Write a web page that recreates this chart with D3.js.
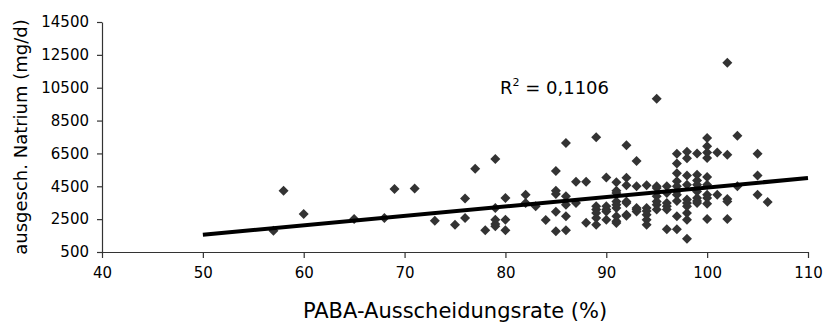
<!DOCTYPE html>
<html>
<head>
<meta charset="utf-8">
<script src="https://cdn.jsdelivr.net/npm/d3@7"></script>
<style>
    body { margin: 0; background: #fff; }
    #chart { width: 826px; height: 322px; }
    text { font-family: "DejaVu Sans", Verdana, sans-serif; fill: #000; }
</style>
</head>
<body>
<div id="chart"></div>
<script>
// PABA excretion rate (%) per subject
let pabaRate = [
    57, 58, 60, 65, 68, 69, 71, 73, 75, 76, 76, 77, 78,
    79, 79, 79, 79, 79, 80, 80, 80, 82, 82, 83, 84,
    85, 85, 85, 85, 85, 86, 86, 86, 86, 86, 87, 87, 88, 88,
    89, 89, 89, 89, 89, 89, 90, 90, 90, 90, 90,
    91, 91, 91, 91, 91, 91, 91, 91, 91,
    92, 92, 92, 92, 92, 92, 92, 93, 93, 93, 93, 93,
    94, 94, 94, 94, 94, 94, 95, 95, 95, 95, 95, 95, 95,
    96, 96, 96, 96, 96, 96,
    97, 97, 97, 97, 97, 97, 97, 97, 97, 97,
    98, 98, 98, 98, 98, 98, 98, 98, 98, 98,
    99, 99, 99, 99, 99, 99, 99, 99,
    100, 100, 100, 100, 100, 100, 100, 100, 100, 100,
    101, 101, 102, 102, 102, 102, 102, 103, 103,
    105, 105, 105, 106
];

// excreted sodium (mg/d), same order
let natrium = [
    1800, 4230, 2810, 2510, 2570, 4330, 4370, 2400, 2160, 3750, 2570, 5570, 1820,
    6160, 3180, 2470, 2200, 2060, 3790, 2470, 1820, 3990, 3480, 3280, 2450,
    5430, 4230, 4030, 2950, 1760, 7130, 3890, 3380, 2670, 1820, 4780, 3480, 4780, 2280,
    7480, 3280, 3080, 2870, 2570, 2160, 5040, 3280, 3080, 2970, 2470,
    4740, 4230, 4090, 3580, 3380, 3180, 2670, 2370, 2260,
    7000, 5020, 4560, 3580, 3480, 2770, 2710, 6040, 4500, 3180, 3080, 2970,
    4560, 3180, 3000, 2770, 2470, 2160, 9830, 4500, 4400, 3890, 3580, 3380, 3080,
    4500, 4090, 3480, 3280, 3080, 1880,
    6480, 5880, 5300, 4800, 4500, 4200, 3990, 3600, 2670, 1880,
    6600, 6200, 5150, 4600, 3690, 3480, 3280, 2870, 2470, 1300,
    6500, 5200, 4850, 4600, 4190, 3790, 3600, 3480,
    7440, 6930, 6560, 6220, 5060, 4600, 3990, 3790, 3440, 2510,
    6560, 3990, 12020, 6420, 3730, 3580, 2510, 7580, 4500,
    6480, 5150, 3990, 3540
];

// linear trend line end points
let trendX = [50, 110];
let trendY = [1550, 5000];
let rSquared = "0,1106";

let xTicks = [40, 50, 60, 70, 80, 90, 100, 110];
let yTicks = [500, 2500, 4500, 6500, 8500, 10500, 12500, 14500];

/**
 * Constructor for the scatter chart
 */
function Scatter(){
    let self = this;
    self.init();
};

Scatter.prototype.init = function(){
    let self = this;
    self.margin = {top: 22, right: 18, bottom: 70, left: 102};
    self.width = 826 - self.margin.left - self.margin.right;
    self.height = 322 - self.margin.top - self.margin.bottom;

    let svg = d3.select("#chart").append("svg")
        .attr("width", 826)
        .attr("height", 322);

    self.g = svg.append("g")
        .attr("transform", "translate(" + self.margin.left + "," + self.margin.top + ")");

    self.x = d3.scaleLinear().domain([40, 110]).range([0, self.width]);
    self.y = d3.scaleLinear().domain([500, 14500]).range([self.height, 0]);

    //Axes
    let xAxis = self.g.append("g")
        .attr("transform", "translate(0," + self.height + ")")
        .call(d3.axisBottom(self.x).tickValues(xTicks).tickFormat(d3.format("d"))
            .tickSize(6).tickSizeOuter(0).tickPadding(9));
    let yAxis = self.g.append("g")
        .call(d3.axisLeft(self.y).tickValues(yTicks).tickFormat(d3.format("d"))
            .tickSize(5).tickSizeOuter(0).tickPadding(8));

    [xAxis, yAxis].forEach(function(ax) {
        ax.select(".domain").attr("stroke", "#333").attr("stroke-width", 1.2);
        ax.selectAll(".tick line").attr("stroke", "#333").attr("stroke-width", 1.2);
        ax.selectAll(".tick text")
            .attr("font-family", "DejaVu Sans, Verdana, sans-serif")
            .attr("font-size", 15)
            .attr("fill", "#000");
    });

    //Points
    let points = pabaRate.map(function(d, i) { return {x: d, y: natrium[i]}; });
    let diamond = d3.symbol().type(d3.symbolSquare).size(50);
    self.g.selectAll(".pt")
        .data(points)
        .enter().append("path")
        .attr("class", "pt")
        .attr("d", diamond)
        .attr("fill", "#333")
        .attr("transform", function(d) {
            return "translate(" + self.x(d.x) + "," + self.y(d.y) + ") rotate(45)";
        });

    //Trend line
    let trend = trendX.map(function(d, i) { return [d, trendY[i]]; });
    self.g.append("path")
        .datum(trend)
        .attr("fill", "none")
        .attr("stroke", "#000")
        .attr("stroke-width", 4)
        .attr("d", d3.line().x(function(d) { return self.x(d[0]); }).y(function(d) { return self.y(d[1]); }));

    //R squared label
    let r2 = self.g.append("text")
        .attr("x", 398)
        .attr("y", 72)
        .attr("font-size", 18);
    r2.append("tspan").text("R");
    r2.append("tspan").attr("dy", -8).attr("font-size", 11).text("2");
    r2.append("tspan").attr("dy", 8).text(" = " + rSquared);

    //Axis titles
    svg.append("text")
        .attr("x", 455)
        .attr("y", 318)
        .attr("text-anchor", "middle")
        .attr("font-size", 21)
        .text("PABA-Ausscheidungsrate (%)");

    svg.append("text")
        .attr("transform", "translate(27," + (self.margin.top + self.height / 2) + ") rotate(-90)")
        .attr("text-anchor", "middle")
        .attr("font-size", 18)
        .text("ausgesch. Natrium (mg/d)");
}

let chart = new Scatter();
</script>
</body>
</html>
